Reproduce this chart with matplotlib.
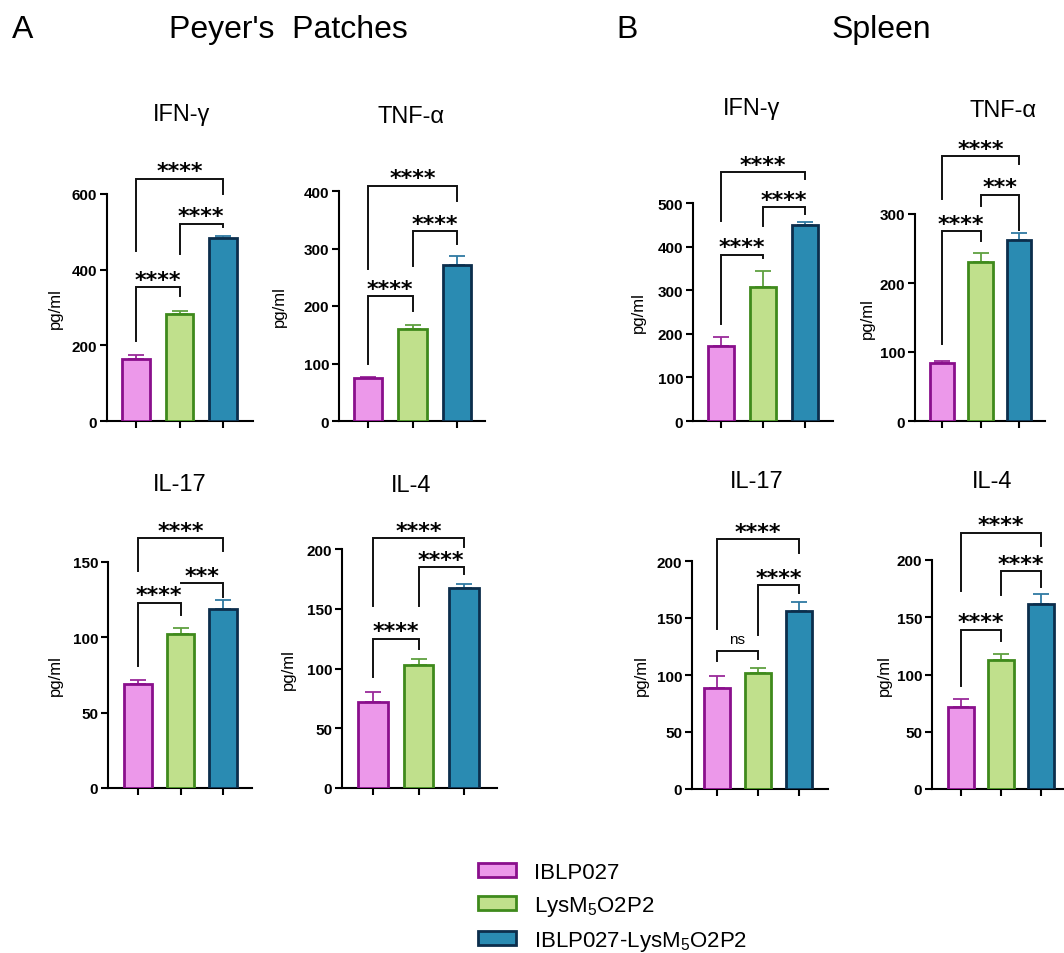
import numpy as np
import matplotlib.pyplot as plt

plt.rcParams['font.family'] = ['Liberation Sans', 'DejaVu Sans']
plt.rcParams['mathtext.fontset'] = 'custom'
plt.rcParams['mathtext.rm'] = 'Liberation Sans'
plt.rcParams['mathtext.default'] = 'regular'

groups = ['IBLP027', 'LysM$_5$O2P2', 'IBLP027-LysM$_5$O2P2']
fill_colors = ['#ec98ea', '#c0e08c', '#2a8bb2']
edge_colors = ['#8a0f8c', '#3f8a1c', '#0c2e4c']
err_colors = ['#9a2a9a', '#5fa040', '#2f7aa2']

# Peyer's patches
pp_ifn = [163, 282, 483]
pp_ifn_err = [12, 10, 5]
pp_tnf = [75, 160, 272]
pp_tnf_err = [2, 7, 15]
pp_il17 = [69, 102, 119]
pp_il17_err = [3, 4, 6]
pp_il4 = [72, 103, 167]
pp_il4_err = [8, 5, 4]

# Spleen
sp_ifn = [173, 307, 450]
sp_ifn_err = [20, 36, 6]
sp_tnf = [84, 230, 262]
sp_tnf_err = [3, 14, 10]
sp_il17 = [89, 102, 156]
sp_il17_err = [10, 4, 8]
sp_il4 = [72, 113, 162]
sp_il4_err = [7, 5, 8]

# significance brackets: (bar i, bar j, bracket y, left leg end, right leg end, label)
pp_ifn_sig = [(0, 1, 354, 212, 331, '****'), (1, 2, 521, 442, 513, '****'), (0, 2, 640, 450, 600, '****')]
pp_tnf_sig = [(0, 1, 217, 99, 191, '****'), (1, 2, 330, 270, 308, '****'), (0, 2, 409, 264, 383, '****')]
pp_il17_sig = [(0, 1, 123, 81, 115, '****'), (1, 2, 136, 136, 127, '***'), (0, 2, 166, 144, 157, '****')]
pp_il4_sig = [(0, 1, 125, 93, 116, '****'), (1, 2, 185, 152, 179, '****'), (0, 2, 209, 152, 202, '****')]
sp_ifn_sig = [(0, 1, 381, 222, 374, '****'), (1, 2, 491, 447, 475, '****'), (0, 2, 571, 459, 555, '****')]
sp_tnf_sig = [(0, 1, 275, 112, 261, '****'), (1, 2, 328, 312, 277, '***'), (0, 2, 384, 322, 372, '****')]
sp_il17_sig = [(0, 1, 121, 112, 114, 'ns'), (1, 2, 179, 135, 172, '****'), (0, 2, 219, 140, 207, '****')]
sp_il4_sig = [(0, 1, 139, 90, 129, '****'), (1, 2, 190, 169, 176, '****'), (0, 2, 224, 173, 212, '****')]

W, H = 1064, 954
fig = plt.figure(figsize=(W / 100, H / 100), dpi=100)

# title, values, errors, brackets, ymax, ystep,
# pixel layout: axis left, axis right, y of 0, y of ymax, first bar centre, last bar centre,
# title centre x, title baseline y, ylabel centre x
panels = [
    ('IFN-γ', pp_ifn, pp_ifn_err, pp_ifn_sig, 600, 200, (107, 253, 422, 195, 136, 223), (182, 121), 55),
    ('TNF-α', pp_tnf, pp_tnf_err, pp_tnf_sig, 400, 100, (339, 485, 422, 192, 368, 457), (411, 123), 279),
    ('IL-17', pp_il17, pp_il17_err, pp_il17_sig, 150, 50, (108, 252, 789, 563, 138, 223), (180, 491), 55),
    ('IL-4', pp_il4, pp_il4_err, pp_il4_sig, 200, 50, (342, 497, 789, 550, 373, 464), (411, 492), 288),
    ('IFN-γ', sp_ifn, sp_ifn_err, sp_ifn_sig, 500, 100, (693, 833, 422, 204, 721, 805), (752, 115), 638),
    ('TNF-α', sp_tnf, sp_tnf_err, sp_tnf_sig, 300, 100, (915, 1045, 422, 215, 942, 1019), (1003, 117), 867),
    ('IL-17', sp_il17, sp_il17_err, sp_il17_sig, 200, 50, (692, 828, 790, 562, 717, 799), (757, 488), 641),
    ('IL-4', sp_il4, sp_il4_err, sp_il4_sig, 200, 50, (932, 1080, 790, 561, 961, 1041), (992, 488), 884),
]

x = np.arange(1, 4)
legend_bars = None
for title, vals, errs, sig, ymax, ystep, lay, tpos, ylab_x in panels:
    L, R, y0, ytop, c1, c3 = lay
    ax = fig.add_axes([L / W, 1 - y0 / H, (R - L) / W, (y0 - ytop) / H])
    ax.patch.set_alpha(0)
    s = (c3 - c1) / 2.0
    ax.set_xlim(1 - (c1 - L) / s, 3 + (R - c3) / s)
    ax.set_ylim(0, ymax)

    bars = ax.bar(x, vals, width=0.64, color=fill_colors, edgecolor=edge_colors, linewidth=2.0, zorder=3)
    if legend_bars is None:
        legend_bars = bars
    for xi, v, e, c in zip(x, vals, errs, err_colors):
        ax.errorbar(xi, v, yerr=[[0], [e]], fmt='none', ecolor=c, elinewidth=1.3,
                    capsize=6, capthick=1.3, zorder=2)

    for i, j, yb, yl, yr, lab in sig:
        ax.plot([i + 1, i + 1, j + 1, j + 1], [yl, yb, yb, yr], color='#111111', lw=1.4,
                clip_on=False, solid_joinstyle='miter')
        if lab == 'ns':
            ax.annotate(lab, xy=((i + j) / 2 + 1, yb), xytext=(0, 6), textcoords='offset points',
                        ha='center', va='baseline', fontsize=11, annotation_clip=False)
        else:
            ax.annotate(lab, xy=((i + j) / 2 + 1, yb), xytext=(0, 1), textcoords='offset points',
                        ha='center', va='baseline', fontsize=16, fontweight='bold',
                        family=['DejaVu Sans'], annotation_clip=False)

    ax.set_yticks(np.arange(0, ymax + 1, ystep))
    ax.set_xticks(x)
    ax.tick_params(axis='x', length=5, width=1.5, labelbottom=False)
    ax.tick_params(axis='y', length=5, width=1.5, labelsize=11, pad=2)
    for lab in ax.get_yticklabels():
        lab.set_fontweight('bold')
    for side in ['top', 'right']:
        ax.spines[side].set_visible(False)
    for side in ['left', 'bottom']:
        ax.spines[side].set_linewidth(1.5)

    fig.text(tpos[0] / W, 1 - tpos[1] / H, title, ha='center', va='baseline', fontsize=17)
    fig.text(ylab_x / W, 1 - (y0 + ytop) / 2 / H, 'pg/ml', rotation=90, ha='center', va='center', fontsize=12)

fig.text(12 / W, 1 - 38 / H, 'A', fontsize=23, va='baseline')
fig.text(288 / W, 1 - 38 / H, "Peyer's  Patches", fontsize=23, ha='center', va='baseline')
fig.text(616 / W, 1 - 38 / H, 'B', fontsize=23, va='baseline')
fig.text(881 / W, 1 - 38 / H, 'Spleen', fontsize=23, ha='center', va='baseline')

fig.legend(legend_bars, groups, loc='upper left', bbox_to_anchor=(478 / W, 1 - 863 / H),
           frameon=False, fontsize=16, handlelength=1.7, handleheight=0.6, handletextpad=0.8,
           labelspacing=0.5, borderaxespad=0, borderpad=0)

fig.savefig('out.png', dpi=100)
